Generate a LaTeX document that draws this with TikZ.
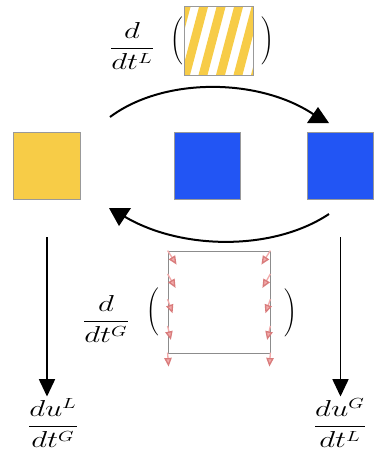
\documentclass[tikz,border=0pt]{standalone}
\usepackage{graphicx}
\usepackage{exscale}
\usetikzlibrary{arrows.meta, positioning, calc}

\definecolor{sqyellow}{HTML}{F7CC47}
\definecolor{sqblue}{HTML}{2255F4}
\definecolor{fieldred}{HTML}{F2AAAA}
\definecolor{fieldedge}{HTML}{D97C7C}

\newcommand{\wfrac}[2]{\scalebox{1.35}[1]{$\displaystyle\frac{#1}{#2}$}}

\begin{document}
\begin{tikzpicture}[x=0.75pt, y=-0.75pt, font=\fontsize{16}{19}\selectfont,
          square/.style={rectangle, draw=gray!80, line width=0.6pt, minimum size=50pt, inner sep=0pt},
          mathlbl/.style={inner sep=1pt},
          paren/.style={inner sep=0pt, font=\fontsize{12}{14}\selectfont},
          swing/.style={line width=1.5pt},
          down/.style={-{Triangle[length=13pt, width=12pt]}, line width=1.2pt},
          field/.style={-{Triangle[length=6.5pt, width=5.5pt, color=fieldedge, fill=fieldred]}, draw=fieldred, line width=1pt}]
        \useasboundingbox (0,0) rectangle (377,458);

        % the three squares
        \node [square, fill=sqyellow] (sqY) at (47,166) {};
        \node [square, fill=sqblue] (sqB) at (207.5,166) {};
        \node [square, fill=sqblue] (sqC) at (340.5,166) {};

        % top label with the striped square
        \node [mathlbl] (fracL) at (132,46) {\wfrac{d}{dt^{L}}};
        \node [paren] (lpA) at (177,41) {$\Bigg($};
        \node [square, draw=none, minimum size=51pt] (stripe) at (218.5,41) {};
        \begin{scope}
          \clip (stripe.south west) rectangle (stripe.north east);
          \foreach \k in {-2,...,4}
            \fill [sqyellow] ({181+17.5*\k},75) -- ++(9,0) -- ++(18,-68) -- ++(-9,0) -- cycle;
        \end{scope}
        \draw [gray!80, line width=0.6pt] (stripe.south west) rectangle (stripe.north east);
        \node [paren] (rpA) at (268,41) {$\Bigg)$};

        % curved arrows between the squares
        \coordinate (arcA) at (110,117);
        \coordinate (headA) at (316,116);
        \draw [swing] (arcA) .. controls (165,76) and (262,78) .. (headA);
        \fill (headA) ++(2,-9) -- ++(-11,16) -- ++(22,0) -- cycle;

        \coordinate (arcB) at (329,214);
        \coordinate (headB) at (122,215);
        \draw [swing] (arcB) .. controls (272,252) and (178,250) .. (headB);
        \fill (headB) ++(-3,11) -- ++(-10,-18) -- ++(22,0) -- cycle;

        % middle label with the arrow field
        \node [mathlbl] (fracG) at (106,319) {\wfrac{d}{dt^{G}}};
        \node [paren] (lpB) at (153,312) {$\Bigg($};
        \node [rectangle, draw=gray!90, line width=0.6pt, minimum width=76.5pt, minimum height=76.5pt, inner sep=0pt] (frame) at (219,302) {};
        \node [paren] (rpB) at (291,313) {$\Bigg)$};

        \foreach \d/\dx in {0/9, 17.5/8, 36.5/5, 56.5/3.3, 76.5/1} {
          \draw [field] ([yshift=-\d pt]frame.north west) -- ++(\dx,14);
          \draw [field] ([yshift=-\d pt]frame.north east) -- ++(-\dx,14);
        }

        % bottom labels
        \node [mathlbl] (duL) at (53,423) {\wfrac{du^{L}}{dt^{G}}};
        \node [mathlbl] (duG) at (340,423) {\wfrac{du^{G}}{dt^{L}}};

        \draw [down] ([yshift=-28pt]sqY.south) -- (sqY |- duL.north);
        \draw [down] ([yshift=-28pt]sqC.south) -- (sqC |- duG.north);
      \end{tikzpicture}
\end{document}
